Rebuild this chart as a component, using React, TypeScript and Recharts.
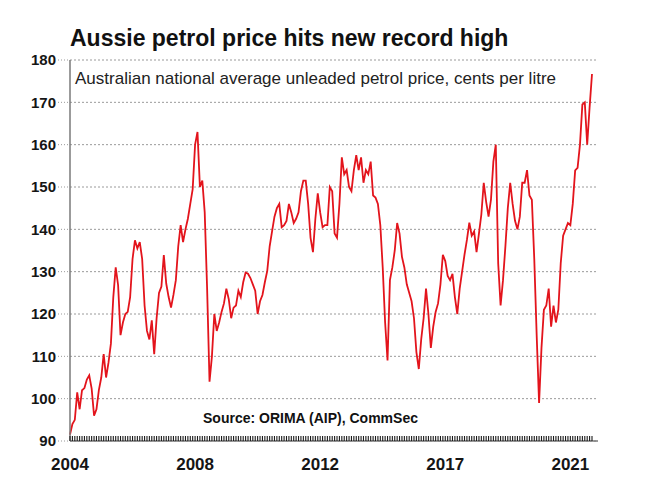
import React from 'react';
import { LineChart, Line, XAxis, YAxis, CartesianGrid } from 'recharts';

// Monthly average unleaded petrol price (cents per litre)
const p2004 = [91.5, 94, 95, 101.5, 97.5, 102, 102.5, 104.5, 105.5, 102.4, 96, 97.5];
const p2005 = [102, 105, 110.5, 105, 108.5, 113, 124, 131, 126.8, 115, 118, 120];
const p2006 = [120.5, 124, 133, 137.4, 135.5, 137, 133, 122, 116, 114, 118.5, 110.5];
const p2007 = [119, 125, 126.5, 133.9, 127.2, 124, 121.5, 124.5, 128, 136, 141, 137];
const p2008 = [140, 142.5, 146, 149.5, 160, 163, 150, 151.5, 144, 126, 104, 110];
const p2009 = [120, 116, 118, 120.5, 122.5, 126, 123.5, 119, 121.5, 122, 125.5, 124];
const p2010 = [127.5, 129.8, 129.5, 128.5, 127, 125.5, 120, 123, 124.5, 127.5, 130.2, 136];
const p2011 = [139.5, 143, 145, 146, 140.5, 141, 142, 146, 144, 141.5, 142.5, 144];
const p2012 = [149, 151.5, 151.5, 146, 138, 134.6, 142.5, 148.5, 144, 140.5, 141, 141];
const p2013 = [150, 149, 139, 138, 146, 157, 153, 154, 150, 149, 154, 157.5];
const p2014 = [154, 157, 151, 154, 153, 156, 148, 147.5, 146, 141, 131, 118];
const p2015 = [109, 128, 131, 135, 141.5, 139, 133.5, 131, 127, 125, 123, 119];
const p2016 = [111, 107, 114, 119, 126, 120, 112, 117, 120.5, 122.5, 127, 134];
const p2017 = [132.5, 129, 128, 129.5, 124, 120, 126, 130, 134, 137.5, 141.6, 138.5];
const p2018 = [139.5, 134.6, 139, 143.5, 151, 146.5, 143, 147, 156, 160, 132, 122];
const p2019 = [128, 136, 145, 151, 146, 142, 140, 143, 151, 151, 154, 148];
const p2020 = [147, 133, 115, 99, 112, 121, 122, 126, 117, 122, 118, 121];
const p2021 = [132, 138.5, 140, 141.5, 141, 146, 153.9, 154.5, 160, 169.5, 170, 160];
const p2022 = [168.8, 176.7];

const years = [2004, 2005, 2006, 2007, 2008, 2009, 2010, 2011, 2012, 2013, 2014, 2015, 2016, 2017, 2018, 2019, 2020, 2021, 2022];
const series = [p2004, p2005, p2006, p2007, p2008, p2009, p2010, p2011, p2012, p2013, p2014, p2015, p2016, p2017, p2018, p2019, p2020, p2021, p2022];

const tickDates = ['2004-01', '2008-05', '2012-09', '2017-01', '2021-05'];
const tickLabels = ['2004', '2008', '2012', '2017', '2021'];
const yTicks = [90, 100, 110, 120, 130, 140, 150, 160, 170, 180];

const title = 'Aussie petrol price hits new record high';
const subtitle = 'Australian national average unleaded petrol price, cents per litre';
const source = 'Source: ORIMA (AIP), CommSec';

const data = years.flatMap((yr, k) =>
  series[k].map((v, i) => ({ date: `${yr}-${String(i + 1).padStart(2, '0')}`, price: v }))
);

const FONT = '"Liberation Sans", Arial, Helvetica, sans-serif';
const LABEL_GAP = 17;
const HATCH = 5;

// Each category gets a short inward tick mark (the dense hatch along the base);
// selected categories also get a year label.
const XTick = (props: any) => {
  const { x, y, payload } = props;
  const base = y - LABEL_GAP;
  const idx = tickDates.indexOf(payload.value);
  return (
    <g>
      <line x1={x} x2={x} y1={base - HATCH} y2={base} stroke="#1a1a1a" strokeWidth={1.1} />
      {idx >= 0 && (
        <text x={x} y={y} dy="0.71em" textAnchor="middle" fontSize={17} fontWeight="bold" fill="#151515" fontFamily={FONT}>
          {tickLabels[idx]}
        </text>
      )}
    </g>
  );
};

export default function App() {
  return (
    <div style={{ position: 'absolute', left: 0, top: 0, width: 650, height: 488, background: '#fff' }}>
      <LineChart width={650} height={488} data={data} margin={{ top: 60, right: 52, bottom: 17, left: 0 }}>
        <CartesianGrid vertical={false} stroke="#9a9a9a" strokeDasharray="2 2" />
        <XAxis
          dataKey="date"
          interval={0}
          height={30}
          padding={{ left: 0, right: 6 }}
          tickSize={0}
          tickMargin={LABEL_GAP}
          tickLine={false}
          axisLine={{ stroke: '#7a7a7a', strokeWidth: 1.5 }}
          tick={<XTick />}
        />
        <XAxis
          xAxisId="t"
          orientation="top"
          dataKey="date"
          height={0}
          tick={false}
          tickLine={false}
          axisLine={{ stroke: '#7a7a7a', strokeWidth: 1.5 }}
        />
        <YAxis
          domain={[90, 180]}
          ticks={yTicks}
          interval={0}
          width={70}
          tickSize={12}
          tickMargin={2}
          tickLine={{ stroke: '#999', strokeDasharray: '1 2' }}
          axisLine={{ stroke: '#7a7a7a', strokeWidth: 1.5 }}
          tick={{ fontSize: 15, fontWeight: 'bold', fill: '#151515', fontFamily: FONT }}
        />
        <YAxis
          yAxisId="r"
          orientation="right"
          domain={[90, 180]}
          width={0}
          tick={false}
          tickLine={false}
          axisLine={{ stroke: '#7a7a7a', strokeWidth: 1.5 }}
        />
        <Line
          type="linear"
          dataKey="price"
          stroke="#e3141c"
          strokeWidth={1.8}
          dot={false}
          isAnimationActive={false}
        />
      </LineChart>
      <div style={{ position: 'absolute', left: 70, top: 27, fontFamily: FONT, fontWeight: 'bold', fontSize: 23, lineHeight: 1, color: '#111', whiteSpace: 'nowrap' }}>
        {title}
      </div>
      <div style={{ position: 'absolute', left: 75, top: 70, fontFamily: FONT, fontSize: 17, lineHeight: 1, color: '#222', whiteSpace: 'nowrap' }}>
        {subtitle}
      </div>
      <div style={{ position: 'absolute', left: 203, top: 411, fontFamily: FONT, fontWeight: 'bold', fontSize: 14, lineHeight: 1, color: '#111', whiteSpace: 'nowrap' }}>
        {source}
      </div>
    </div>
  );
}
